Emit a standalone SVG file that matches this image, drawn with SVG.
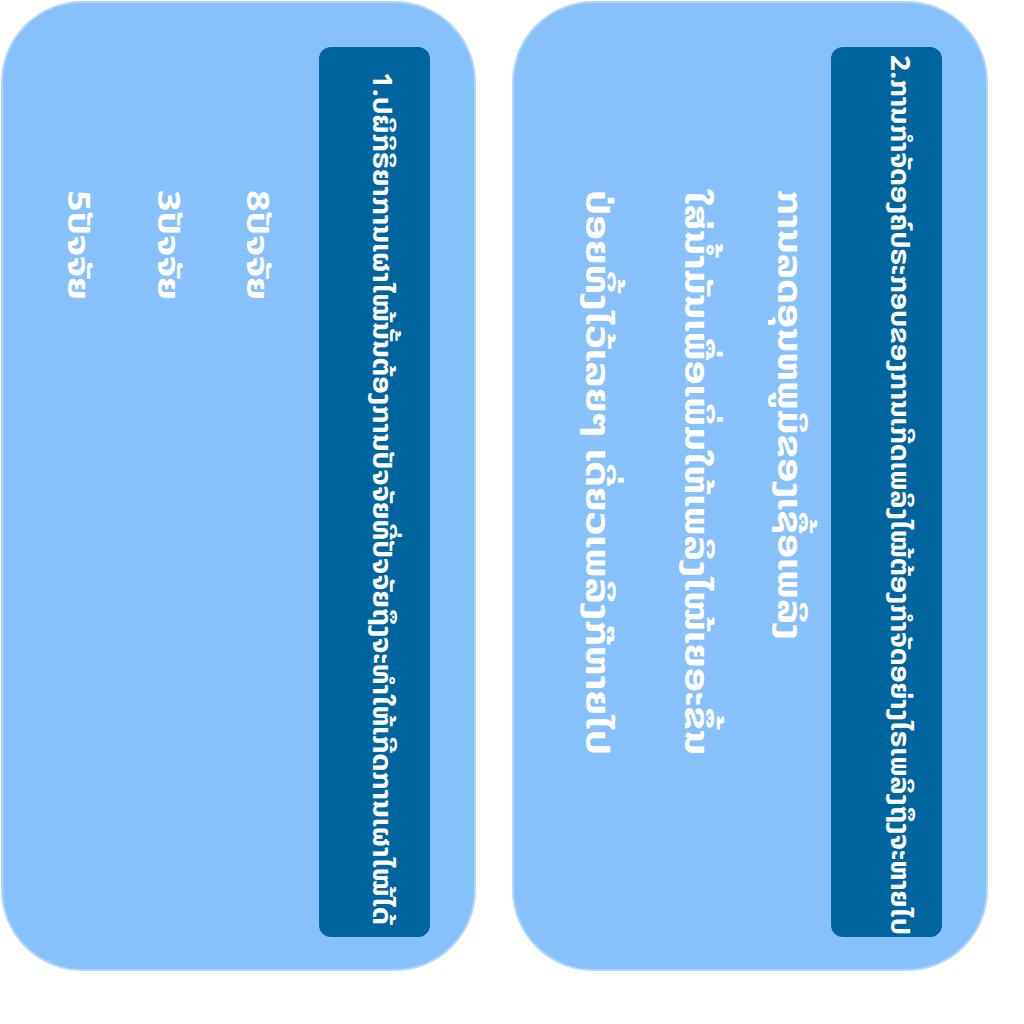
<svg xmlns="http://www.w3.org/2000/svg" width="1024" height="1024" viewBox="0 0 1024 1024">
<style>
.panel{fill:#87c1fc;stroke:#b3d7fb;stroke-width:2}
.head{fill:#00659e}
.t{font-family:"Noto Sans Lao","DejaVu Sans","Noto Sans",sans-serif;fill:#ffffff;font-weight:bold}
.title{font-size:26px}
.body{font-size:34px}
.item{font-size:30px}
</style>
<rect width="1024" height="1024" fill="#ffffff"/>
<g id="connectors"></g>
<g id="panel-left">
  <rect class="panel" x="2" y="2" width="473" height="968" rx="80"/>
  <g id="header-left">
    <rect class="head" x="319" y="47" width="111" height="890" rx="12"/>
    <text class="t title" transform="translate(373,72) rotate(90)" textLength="853" lengthAdjust="spacingAndGlyphs">1.ປຏິກິຣິຍາການເຜາໄໝ້ນັ້ນຕ້ອງການປັຈຈັຍທີ່ປັຈຈັຍຖຶງຈະທຳໃຫ້ເກີດການເຜາໄໝ້ໄດ້</text>
  </g>
  <g id="item-8">
    <text class="t item" transform="translate(247,190) rotate(90)" textLength="110" lengthAdjust="spacingAndGlyphs">8ປັຈຈັຍ</text>
  </g>
  <g id="item-3">
    <text class="t item" transform="translate(158,190) rotate(90)" textLength="110" lengthAdjust="spacingAndGlyphs">3ປັຈຈັຍ</text>
  </g>
  <g id="item-5">
    <text class="t item" transform="translate(68,190) rotate(90)" textLength="110" lengthAdjust="spacingAndGlyphs">5ປັຈຈັຍ</text>
  </g>
</g>
<g id="panel-right">
  <rect class="panel" x="513" y="2" width="474" height="968" rx="80"/>
  <g id="header-right">
    <rect class="head" x="831" y="47" width="111" height="890" rx="12"/>
    <text class="t title" transform="translate(891,55) rotate(90)" textLength="880" lengthAdjust="spacingAndGlyphs">2.ການກຳຈັດອງຄ໌ປຣະກອບຂອງການເກີດເພລິງໄໝ້ຕ້ອງກຳຈັດອຍ່າງໄຣເພລິງຖຶງຈະຫາຍໄປ</text>
  </g>
  <g id="option-1">
    <text class="t body" transform="translate(778,190) rotate(90)" textLength="450" lengthAdjust="spacingAndGlyphs">ການລດອຸນຫພູມິຂອງເຊື້ອເພລິງ</text>
  </g>
  <g id="option-2">
    <text class="t body" transform="translate(685,190) rotate(90)" textLength="565" lengthAdjust="spacingAndGlyphs">ໃສ່ນ້ຳມັນເພື່ອເພິ່ມໃຫ້ເພລິງໄໝ້ເຍອະຂຶ້ນ</text>
  </g>
  <g id="option-3">
    <text class="t body" transform="translate(586,190) rotate(90)" textLength="565" lengthAdjust="spacingAndGlyphs">ປ່ອຍທິ້ງໄວ້ເລຍໆ ເດີ່ຍວເພລິງກ໊ຫາຍໄປ</text>
  </g>
</g>
</svg>
